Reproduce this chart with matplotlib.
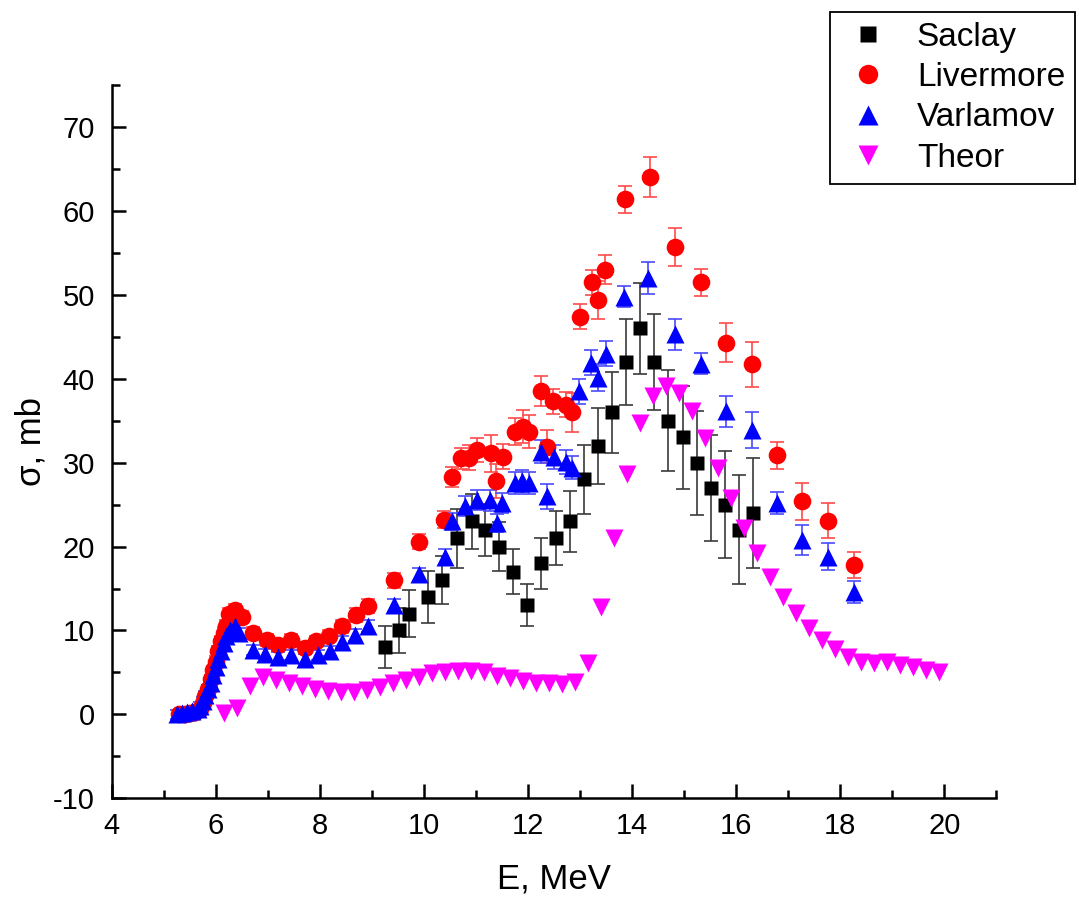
import matplotlib.pyplot as plt
from matplotlib.ticker import MultipleLocator

plt.rcParams['font.family'] = ['Liberation Sans', 'DejaVu Sans']
plt.rcParams['axes.unicode_minus'] = False

# Saclay
sac_e = [9.26, 9.53, 9.71, 10.07, 10.35, 10.63, 10.93, 11.18, 11.44, 11.71, 11.98,
         12.25, 12.53, 12.80, 13.07, 13.34, 13.61, 13.88, 14.15, 14.42, 14.69, 14.97,
         15.24, 15.51, 15.79, 16.06, 16.33]
sac_s = [8, 10, 12, 14, 16, 21, 23, 22, 20, 17, 13, 18, 21, 23, 28, 32, 36, 42, 46,
         42, 35, 33, 30, 27, 25, 22, 24]
sac_err = [2.5, 2.7, 2.8, 3.1, 2.9, 3.5, 3.3, 3.1, 2.9, 2.7, 2.5, 3.0, 3.2, 3.6, 4.1,
           4.5, 4.8, 5.1, 5.4, 5.7, 6.0, 6.1, 6.2, 6.3, 6.4, 6.5, 6.5]

# Livermore
liv_e = [5.30, 5.40, 5.50, 5.60, 5.70, 5.75, 5.80, 5.85, 5.90, 5.95, 6.00, 6.05, 6.10,
         6.15, 6.20, 6.25, 6.37, 6.50, 6.72, 6.98, 7.20, 7.45, 7.71, 7.93, 8.18, 8.43,
         8.69, 8.92, 9.42, 9.90, 10.38, 10.53, 10.72, 10.87, 11.02, 11.28, 11.39, 11.52,
         11.75, 11.90, 12.01, 12.25, 12.37, 12.48, 12.73, 12.85, 12.99, 13.22, 13.35,
         13.48, 13.86, 14.35, 14.83, 15.32, 15.80, 16.30, 16.78, 17.27, 17.77, 18.27]
liv_s = [0.0, 0.1, 0.2, 0.3, 0.7, 1.3, 2.2, 3.0, 4.2, 5.3, 6.3, 7.5, 8.7, 9.7, 10.5,
         12.0, 12.4, 11.6, 9.7, 8.9, 8.3, 8.9, 7.9, 8.7, 9.4, 10.5, 11.85, 12.9, 16.0,
         20.6, 23.2, 28.3, 30.5, 30.6, 31.5, 31.1, 27.8, 30.7, 33.7, 34.3, 33.7, 38.5,
         31.9, 37.3, 36.9, 36.0, 47.4, 51.5, 49.4, 53.0, 61.4, 64.0, 55.7, 51.5, 44.3,
         41.7, 30.9, 25.4, 23.1, 17.8]
liv_err = [0.3, 0.3, 0.3, 0.3, 0.4, 0.4, 0.4, 0.5, 0.5, 0.5, 0.6, 0.6, 0.6, 0.7, 0.7,
           0.7, 0.7, 0.7, 0.7, 0.7, 0.7, 0.7, 0.7, 0.7, 0.7, 0.8, 0.8, 0.8, 0.9, 0.9,
           1.0, 1.2, 1.2, 1.5, 1.4, 2.2, 2.0, 1.5, 1.6, 2.0, 2.0, 1.8, 2.0, 1.5, 1.5,
           2.3, 1.5, 1.5, 2.3, 1.7, 1.6, 2.4, 2.3, 1.6, 2.3, 2.7, 1.6, 2.2, 2.1, 1.6]

# Varlamov
var_e = [5.25, 5.35, 5.45, 5.55, 5.65, 5.70, 5.75, 5.80, 5.85, 5.90, 5.95, 6.00, 6.05,
         6.10, 6.15, 6.20, 6.27, 6.37, 6.45, 6.72, 6.94, 7.20, 7.45, 7.71, 7.97, 8.19,
         8.43, 8.68, 8.92, 9.43, 9.90, 10.40, 10.54, 10.78, 11.02, 11.26, 11.40, 11.50,
         11.74, 11.89, 12.01, 12.25, 12.37, 12.50, 12.73, 12.85, 12.98, 13.21, 13.35,
         13.49, 13.85, 14.31, 14.83, 15.32, 15.80, 16.30, 16.78, 17.27, 17.77, 18.27]
var_s = [0.0, 0.2, 0.3, 0.4, 0.6, 1.0, 1.6, 2.3, 3.0, 3.8, 4.7, 5.6, 6.6, 7.6, 8.5,
         9.3, 10.1, 10.5, 9.7, 7.7, 7.2, 6.8, 7.1, 6.6, 7.1, 7.6, 8.6, 9.5, 10.5, 13.0,
         16.7, 18.8, 23.0, 24.8, 25.6, 25.5, 22.8, 25.2, 27.6, 27.8, 27.6, 31.3, 26.0,
         30.7, 30.1, 29.4, 38.5, 41.9, 40.1, 43.0, 49.8, 52.0, 45.3, 41.8, 36.1, 33.9,
         25.2, 20.8, 18.8, 14.6]
var_err = [0.5, 0.5, 0.5, 0.5, 0.5, 0.5, 0.5, 0.5, 0.5, 0.5, 0.5, 0.5, 0.5, 0.5, 0.5,
           0.5, 0.6, 0.6, 0.6, 0.6, 0.6, 0.6, 0.6, 0.6, 0.6, 0.6, 0.7, 0.7, 0.7, 0.8,
           0.8, 0.9, 1.0, 1.2, 1.2, 1.3, 1.1, 1.2, 1.3, 1.3, 1.3, 1.4, 1.5, 1.4, 1.4,
           1.4, 1.5, 1.5, 1.6, 1.5, 1.3, 1.9, 1.85, 1.25, 1.8, 2.1, 1.3, 1.75, 1.65, 1.3]

# theory
th_e = [6.15, 6.40, 6.65, 6.90, 7.15, 7.40, 7.65, 7.90, 8.15, 8.40, 8.65, 8.90, 9.15,
        9.40, 9.65, 9.90, 10.15, 10.40, 10.65, 10.90, 11.15, 11.40, 11.65, 11.90, 12.15,
        12.40, 12.65, 12.90, 13.15, 13.40, 13.65, 13.90, 14.15, 14.40, 14.65, 14.90,
        15.15, 15.40, 15.65, 15.90, 16.15, 16.40, 16.65, 16.90, 17.15, 17.40, 17.65,
        17.90, 18.15, 18.40, 18.65, 18.90, 19.15, 19.40, 19.65, 19.90]
th_s = [0.2, 0.8, 3.4, 4.5, 4.1, 3.8, 3.4, 3.0, 2.8, 2.7, 2.7, 2.9, 3.3, 3.7, 4.1, 4.5,
        4.9, 5.1, 5.2, 5.2, 5.0, 4.6, 4.3, 4.0, 3.8, 3.7, 3.6, 3.9, 6.1, 12.8, 21.0,
        28.6, 34.7, 37.9, 39.1, 38.3, 36.1, 32.9, 29.4, 25.8, 22.2, 19.2, 16.4, 14.0,
        12.1, 10.3, 8.9, 7.8, 6.8, 6.3, 6.1, 6.3, 5.9, 5.7, 5.3, 5.1]

fig = plt.figure(figsize=(10.79, 8.99), dpi=100)
ax = fig.add_axes([0.1035, 0.112, 0.820, 0.7934])

bar_kw = dict(fmt='none', capsize=4.7, elinewidth=1.2, capthick=1.2)
ax.errorbar(sac_e, sac_s, yerr=sac_err, ecolor='#3a3a3a', **bar_kw)
ax.errorbar(liv_e, liv_s, yerr=liv_err, ecolor='#ff4a4a', **bar_kw)
ax.errorbar(var_e, var_s, yerr=var_err, ecolor='#4a4aff', **bar_kw)

ax.plot(sac_e, sac_s, 's', color='black', ms=10.5, mec='none', label='Saclay')
ax.plot(liv_e, liv_s, 'o', color='red', ms=12.7, mec='none', label='Livermore')
ax.plot(var_e, var_s, '^', color='blue', ms=13.5, mec='none', label='Varlamov')
ax.plot(th_e, th_s, 'v', color='magenta', ms=13, mec='none', label='Theor')

ax.set_xlim(4, 21)
ax.set_ylim(-10, 75)
ax.xaxis.set_major_locator(MultipleLocator(2))
ax.xaxis.set_minor_locator(MultipleLocator(1))
ax.yaxis.set_major_locator(MultipleLocator(10))
ax.yaxis.set_minor_locator(MultipleLocator(5))

for side in ['top', 'right']:
    ax.spines[side].set_visible(False)
for side in ['left', 'bottom']:
    ax.spines[side].set_linewidth(1.8)

ax.tick_params(which='major', direction='in', length=10, width=1.8, labelsize=21)
ax.tick_params(which='minor', direction='in', length=5.5, width=1.8)
ax.tick_params(axis='x', which='major', pad=10)
ax.tick_params(axis='y', which='major', pad=12)

ax.set_xlabel('E, MeV', fontsize=25, labelpad=16)
ax.set_ylabel('σ, mb', fontsize=25, labelpad=4)

leg = fig.legend(loc='upper right', bbox_to_anchor=(0.9963, 0.987), fontsize=24,
                 frameon=True, fancybox=False, edgecolor='black', framealpha=1,
                 borderaxespad=0, handlelength=1.7, handletextpad=0.6,
                 labelspacing=0.28, borderpad=0.3, markerscale=1.1)
leg.get_frame().set_linewidth(1.3)

fig.savefig('out.png', dpi=100)
